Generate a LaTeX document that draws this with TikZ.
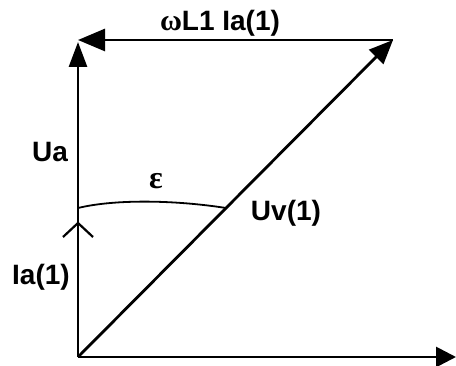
\documentclass[tikz,border=0pt]{standalone}
\usepackage{fontspec}
\setmainfont{Liberation Sans}
\newfontfamily\grk{Liberation Serif}
\usetikzlibrary{arrows.meta}
\begin{document}
\begin{tikzpicture}[x=1pt,y=1pt,
  vec/.style={line width=2.8pt},
  lbl/.style={inner sep=0pt,font=\fontsize{28}{33}\selectfont\bfseries}]
\useasboundingbox (0,0) rectangle (456,365);
\coordinate (O) at (78,8);
\coordinate (T) at (78,323);
\coordinate (TL) at (78,325);
\coordinate (R) at (393,325);
\coordinate (E) at (456,8);
\coordinate (A1) at (78,157);
\coordinate (A2) at (226,157);
\coordinate (C0) at (78,142);
% vectors
\draw[vec,-{Triangle[length=20pt,width=20pt]}] (O) -- (E);
\draw[vec,-{Triangle[length=25pt,width=18pt]}] (O) -- (T);
\draw[vec,-{Triangle[length=27pt,width=22pt]}] (R) -- (TL);
\draw[vec,-{Triangle[length=24pt,width=20pt]}] (O) -- (R);
% angle arc
\draw[line width=1.8pt] (A1) .. controls (115,166) and (175,165) .. (A2);
% open arrowhead on Ia(1)
\draw[line width=2.2pt] ([shift={(-15,-14)}]C0) -- (C0) -- ([shift={(15,-14)}]C0);
% labels
\node[lbl] (lw) at (220,342) {{\grk\fontsize{30}{33}\selectfont ω}L1 Ia(1)};
\node[lbl] (lua) at (50,213) {Ua};
\node[lbl] (leps) at (156,184) {\grk\fontsize{32}{36}\selectfont ε};
\node[lbl] (luv) at (286,152) {Uv(1)};
\node[lbl] (lia) at (41,88) {Ia(1)};
\end{tikzpicture}
\end{document}
